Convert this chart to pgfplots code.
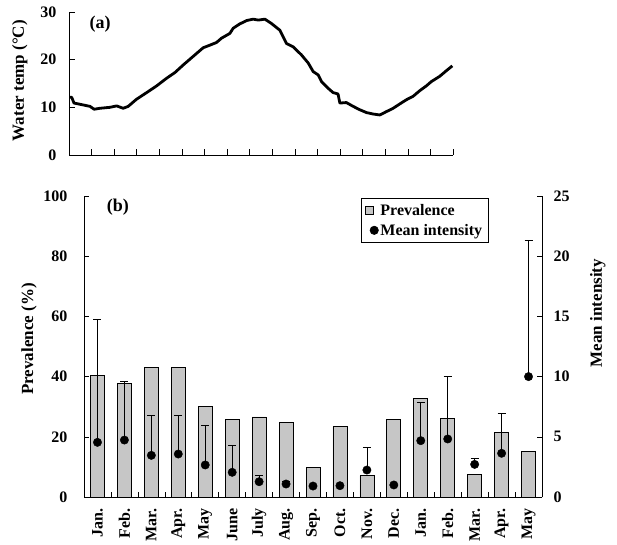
\documentclass[border=0pt]{standalone}
\usepackage{pgfplots}
\pgfplotsset{compat=1.18}
\usepackage{fontspec}
\setmainfont{Liberation Serif}

\newcommand{\tickfont}{\fontsize{16}{18}\selectfont\bfseries}
\newcommand{\labfont}{\fontsize{17}{19}\selectfont\bfseries}

% months Jan..May of the following year, bars centred at k+0.5
\pgfplotstableread{
x    prev
0.5  40.3
1.5  37.6
2.5  43.0
3.5  43.0
4.5  30.0
5.5  25.7
6.5  26.6
7.5  24.9
8.5  9.9
9.5  23.4
10.5 7.1
11.5 25.7
12.5 32.8
13.5 26.2
14.5 7.6
15.5 21.5
16.5 15.2
}\prevdata

\pgfplotstableread{
x    mi    err
0.5  4.54  10.22
1.5  4.73  4.85
2.5  3.46  3.35
3.5  3.57  3.18
4.5  2.66  3.29
5.5  2.05  2.24
6.5  1.27  0.56
7.5  1.08  0.22
8.5  0.91  0
9.5  0.94  0
10.5 2.24  1.89
11.5 1.00  0
12.5 4.68  3.19
13.5 4.82  5.17
14.5 2.71  0.50
15.5 3.63  3.32
16.5 10.0  11.3
}\intdata

\begin{document}
\begin{tikzpicture}
\path (0pt,0pt) rectangle (617pt,543pt);

% (a) water temperature
\begin{axis}[
  at={(69pt,388pt)}, anchor=south west,
  scale only axis, width=384pt, height=143pt,
  xmin=0, xmax=17, ymin=0, ymax=30,
  axis x line*=bottom, axis y line*=left,
  xtick={0,...,17}, xticklabels={},
  ytick={0,10,20,30},
  tick align=inside, major tick length=6pt,
  tick style={black, line width=0.6pt},
  axis line style={line width=0.6pt},
  /pgf/number format/assume math mode=true,
  tick label style={font=\tickfont},
  yticklabel shift=9pt,
  clip=false,
]
\addplot[black, line width=2.8pt, line join=round] table {
0.00 12.1
0.12 12.1
0.22 10.9
0.63 10.5
0.93 10.2
1.11 9.6
1.37 9.8
1.81 10.0
2.11 10.3
2.40 9.8
2.62 10.2
2.99 11.7
3.44 13.1
3.88 14.5
4.32 16.1
4.69 17.3
5.06 18.9
5.50 20.7
5.94 22.5
6.16 22.9
6.53 23.6
6.75 24.5
7.12 25.5
7.27 26.6
7.56 27.5
7.86 28.2
8.15 28.5
8.38 28.3
8.67 28.5
8.96 27.6
9.33 26.2
9.63 23.4
9.92 22.7
10.29 21.0
10.59 19.3
10.81 17.5
11.03 16.8
11.18 15.4
11.47 14.0
11.69 13.1
11.91 12.8
11.99 10.9
12.28 11.0
12.58 10.2
12.87 9.5
13.17 8.9
13.46 8.6
13.76 8.4
14.05 9.1
14.35 9.8
14.64 10.7
14.94 11.6
15.23 12.3
15.53 13.5
15.82 14.5
16.04 15.4
16.41 16.5
16.71 17.7
16.97 18.7
};
\node[font=\fontsize{18}{20}\selectfont\bfseries] at (axis description cs:0.081,0.916) {(a)};
\node[font=\labfont, rotate=90] at (axis description cs:-0.128,0.52) {Water temp (°C)};
\end{axis}

% (b) prevalence bars
\begin{axis}[
  at={(84pt,46pt)}, anchor=south west,
  scale only axis, width=458pt, height=301pt,
  xmin=0, xmax=17, ymin=0, ymax=100,
  axis x line*=bottom, axis y line*=left,
  xtick={0,...,17}, xticklabels={},
  extra x ticks={0.5,1.5,...,16.5},
  extra x tick labels={Jan.,Feb.,Mar.,Apr.,May,June,July,Aug.,Sep.,Oct.,Nov.,Dec.,Jan.,Feb.,Mar.,Apr.,May},
  extra x tick style={major tick length=0pt, xticklabel style={rotate=90, anchor=east}},
  xticklabel shift=8pt,
  ytick={0,20,...,100},
  tick align=inside, major tick length=5pt,
  tick style={black, line width=0.6pt},
  axis line style={line width=0.6pt},
  /pgf/number format/assume math mode=true,
  tick label style={font=\tickfont},
  yticklabel shift=13pt,
  clip=false,
]
\addplot[ybar, bar width=14pt, fill=gray!45, draw=black, line width=0.7pt] table[x=x, y=prev] {\prevdata};
\node[font=\fontsize{18}{20}\selectfont\bfseries] at (axis description cs:0.074,0.963) {(b)};
\node[font=\labfont, rotate=90] at (axis description cs:-0.120,0.525) {Prevalence (\%)};
\end{axis}

% mean intensity on the right axis
\begin{axis}[
  at={(84pt,46pt)}, anchor=south west,
  scale only axis, width=458pt, height=301pt,
  xmin=0, xmax=17, ymin=0, ymax=25,
  axis x line=none, axis y line*=right,
  ytick={0,5,...,25},
  tick align=inside, major tick length=5pt,
  tick style={black, line width=0.6pt},
  axis line style={line width=0.6pt},
  /pgf/number format/assume math mode=true,
  tick label style={font=\tickfont},
  yticklabel shift=8pt,
  clip=false,
  legend style={at={(axis description cs:0.605,0.993)}, anchor=north west,
    draw=black, line width=0.6pt, font=\fontsize{16}{18}\selectfont\bfseries,
    inner sep=4pt, row sep=3pt, legend cell align=left},
]
\addlegendimage{legend image code/.code={\draw[fill=gray!45, draw=black, line width=0.6pt] (0pt,-4pt) rectangle (8pt,4pt);}}
\addlegendentry{Prevalence}
\addplot[only marks, mark=*, mark size=4.2pt, black,
  error bars/.cd, y dir=plus, y explicit,
  error bar style={line width=0.6pt, black},
  error mark options={rotate=90, mark size=4pt, line width=0.6pt}]
  table[x=x, y=mi, y error=err] {\intdata};
\addlegendentry{Mean intensity}
\node[font=\labfont, rotate=90] at (axis description cs:1.122,0.611) {Mean intensity};
\end{axis}
\end{tikzpicture}
\end{document}
